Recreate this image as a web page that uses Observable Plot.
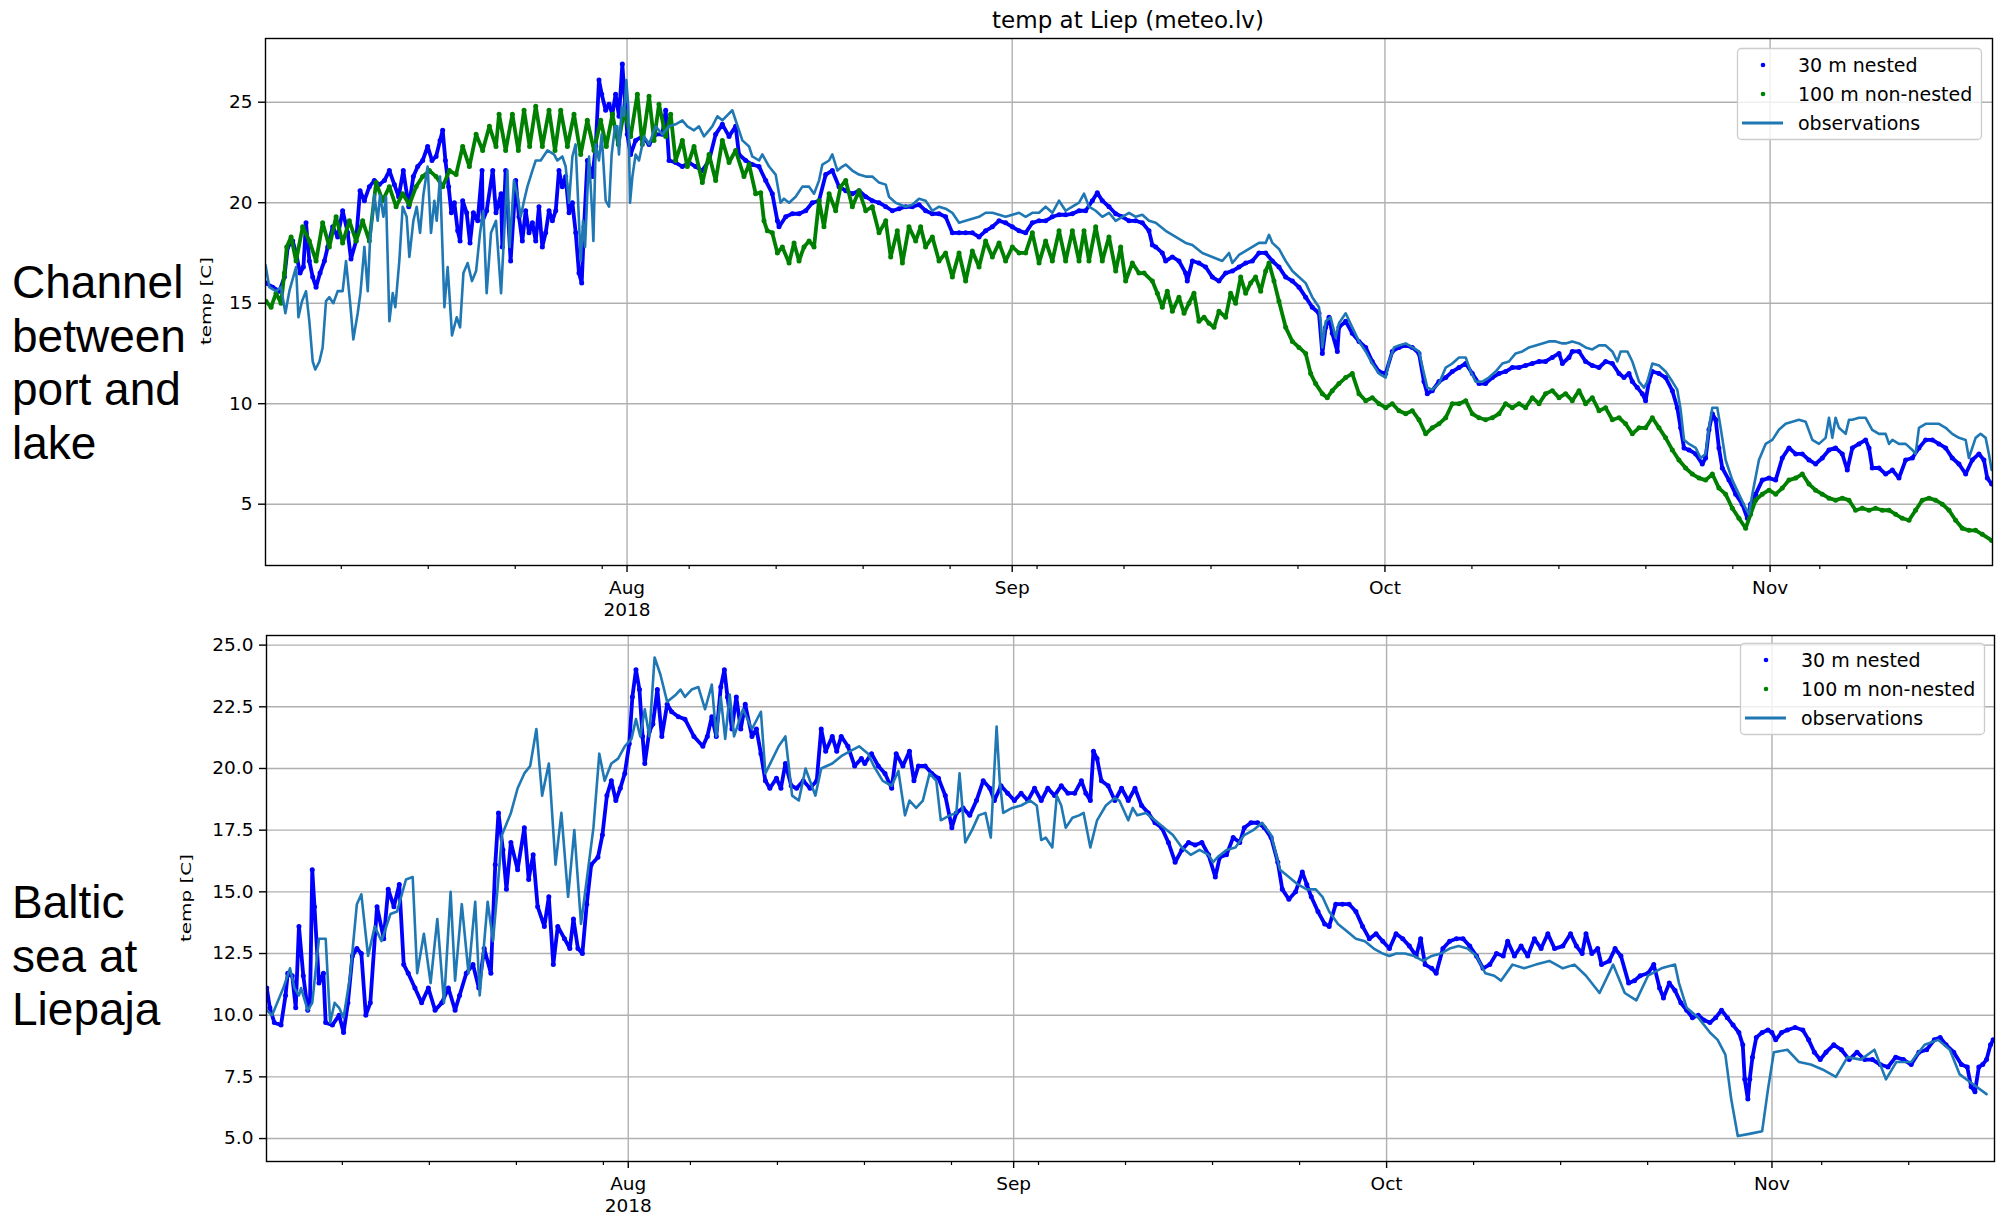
<!DOCTYPE html>
<html>
<head>
<meta charset="utf-8">
<script src="https://cdn.jsdelivr.net/npm/d3@7"></script>
<script src="https://cdn.jsdelivr.net/npm/@observablehq/plot@0.6"></script>
<style>
  body { margin: 0; background: #fff; }
  #page { position: relative; width: 2007px; height: 1219px; overflow: hidden; background: #fff; }
  .panel { position: absolute; left: 0; }
  .site { position: absolute; left: 12px; white-space: nowrap;
          font-family: "Liberation Sans", Arial, sans-serif; font-size: 46px; line-height: 53.5px; color: #000; }
  .title { position: absolute; left: 828px; width: 600px; top: 6px; text-align: center;
           font-family: "DejaVu Sans", sans-serif; font-size: 23px; line-height: 28px; color: #000; }
</style>
</head>
<body>
<div id="page"></div>
<script>
// Water temperature, July–November 2018. Each series is a list of
// [days since 2018-07-03 00:00 UTC, temperature °C].

const titleText = "temp at Liep (meteo.lv)";
const yLabelText = "temp [C]";
const siteNames = [["Channel", "between", "port and", "lake"], ["Baltic", "sea at", "Liepaja"]];
const seriesNames = ["30 m nested", "100 m non-nested", "observations"];

const monthTickDates = ["2018-08-01", "2018-09-01", "2018-10-01", "2018-11-01"];
const monthTickLabels = ["Aug\n2018", "Sep", "Oct", "Nov"];
const weekTickDates = ["2018-07-09", "2018-07-16", "2018-07-23", "2018-07-30", "2018-08-06", "2018-08-13",
  "2018-08-20", "2018-08-27", "2018-09-03", "2018-09-10", "2018-09-17", "2018-09-24", "2018-10-08",
  "2018-10-15", "2018-10-22", "2018-10-29", "2018-11-05", "2018-11-12"];
const dayRange = [-0.1, 138.9];

const channelTicks = [5, 10, 15, 20, 25];
const balticTicks = [5, 7.5, 10, 12.5, 15, 17.5, 20, 22.5, 25];

// Channel between port and lake — observations
const obsChannel = [[-0.1,16.9],[0.21,15.8],[0.75,15.6],[1.15,15.8],[1.5,14.5],[1.82,15.6],[2.22,16.5],[2.36,16.8],[2.55,14.3],[2.84,15.1],[3.16,15.6],[3.43,14.1],[3.7,12.1],[3.91,11.7],[4.24,12.1],[4.5,12.8],[4.77,15.1],[5.04,15.3],[5.36,15.0],[5.71,15.6],[6.11,15.6],[6.38,17.1],[6.7,15.1],[6.97,13.2],[7.32,14.5],[7.54,15.5],[7.86,17.8],[8.13,15.6],[8.31,18.1],[8.66,20.4],[8.93,19.1],[9.12,20.4],[9.39,19.3],[9.6,20.3],[9.87,14.1],[10.14,15.5],[10.35,14.8],[10.67,17.1],[10.94,19.8],[11.26,19.3],[11.48,17.3],[11.8,19.1],[12.07,19.8],[12.34,18.5],[12.61,20.4],[12.95,21.8],[13.22,18.5],[13.49,20.1],[13.68,19.1],[13.95,21.3],[14.3,14.8],[14.56,16.8],[14.75,15.0],[14.91,13.4],[15.29,14.3],[15.56,13.8],[15.83,16.5],[16.17,17.0],[16.52,16.1],[16.85,16.6],[17.17,18.5],[17.43,19.6],[17.7,15.5],[18.05,18.5],[18.45,19.1],[18.86,15.5],[19.37,21.6],[19.55,17.8],[19.9,21.1],[20.17,20.4],[20.44,19.3],[20.71,20.1],[20.98,20.8],[21.38,21.6],[21.65,22.1],[22.05,22.1],[22.59,22.6],[23.12,22.4],[23.39,22.1],[23.79,22.3],[24.06,21.8],[24.33,20.0],[24.6,22.3],[24.86,22.9],[25.27,17.1],[25.46,19.1],[25.62,17.8],[25.8,20.4],[25.94,22.3],[26.21,19.3],[26.29,18.1],[26.48,22.9],[26.74,22.1],[26.96,23.4],[27.28,20.1],[27.55,19.8],[27.76,22.4],[28.03,23.8],[28.22,23.8],[28.35,22.4],[28.57,24.8],[28.76,24.3],[28.94,26.1],[29.1,24.8],[29.24,20.0],[29.43,21.3],[29.69,22.4],[29.96,22.1],[30.37,23.3],[30.77,22.9],[31.3,23.8],[31.84,23.4],[32.38,23.8],[32.91,23.9],[33.45,24.1],[33.85,23.8],[34.39,23.6],[34.79,23.8],[35.19,23.3],[35.6,23.6],[35.86,23.8],[36.27,24.3],[36.67,24.1],[37.47,24.6],[38.28,23.1],[38.82,22.8],[39.08,22.3],[39.62,22.1],[39.89,22.4],[40.43,21.8],[40.96,21.4],[41.36,20.0],[41.63,20.2],[42.04,20.0],[42.57,20.3],[43.11,20.8],[43.65,20.8],[44.05,20.45],[44.45,21.1],[44.72,21.9],[45.26,22.1],[45.52,22.4],[45.93,21.6],[46.33,21.8],[46.6,21.9],[47.13,21.6],[47.67,21.4],[48.21,21.3],[48.74,21.3],[49.28,21.0],[49.82,20.9],[50.08,20.3],[50.62,20.0],[51.42,19.8],[51.96,19.9],[52.5,20.2],[53.03,20.1],[53.57,19.6],[54.11,19.8],[54.64,19.7],[55.18,19.5],[55.72,19.0],[56.25,19.1],[56.79,19.2],[57.33,19.3],[57.86,19.5],[58.4,19.5],[58.94,19.4],[59.47,19.3],[60.01,19.4],[60.55,19.5],[61.08,19.3],[61.62,19.5],[62.16,19.5],[62.69,19.8],[63.23,19.5],[63.77,20.1],[64.3,19.6],[64.84,19.8],[65.38,20.0],[65.78,20.45],[66.18,19.8],[66.72,19.6],[67.25,19.3],[67.79,19.5],[68.33,19.1],[68.86,19.3],[69.4,19.5],[69.94,19.3],[70.47,19.4],[71.01,19.1],[71.55,19.0],[72.35,18.6],[73.16,18.3],[73.96,18.0],[74.5,17.9],[75.3,17.5],[76.11,17.3],[76.91,17.1],[77.45,17.5],[77.72,17.0],[78.25,17.4],[78.79,17.6],[79.33,17.8],[79.86,18.0],[80.4,18.0],[80.67,18.4],[80.94,18.0],[81.47,17.7],[82.01,17.1],[82.55,16.6],[83.08,16.3],[83.62,16.0],[84.15,15.3],[84.69,14.8],[84.83,14.1],[84.96,12.8],[85.23,14.1],[85.63,14.3],[86.03,13.3],[86.3,14.0],[86.84,14.5],[87.37,13.8],[87.91,13.1],[88.45,12.6],[88.98,12.0],[89.52,11.5],[90.06,11.3],[90.33,12.1],[90.73,12.8],[91.13,12.9],[91.67,13.0],[92.2,12.8],[92.74,12.6],[93.14,11.5],[93.41,10.8],[93.81,10.7],[94.35,11.0],[94.89,11.8],[95.42,12.0],[95.96,12.3],[96.5,12.3],[96.9,11.6],[97.3,11.1],[97.84,11.1],[98.37,11.3],[98.91,11.6],[99.45,12.0],[99.98,12.1],[100.52,12.5],[101.06,12.6],[101.59,12.8],[102.13,12.9],[102.67,13.0],[103.2,13.1],[103.74,13.1],[104.28,13.0],[104.54,13.0],[105.08,13.1],[105.62,13.0],[106.15,12.8],[106.69,12.7],[107.23,12.9],[107.76,12.9],[108.3,12.6],[108.7,12.1],[108.97,12.6],[109.51,12.6],[109.91,12.1],[110.45,11.1],[110.85,10.8],[111.12,11.1],[111.52,12.0],[112.06,11.9],[112.59,11.6],[113.13,11.1],[113.53,10.7],[113.8,9.7],[114.07,8.2],[114.47,8.0],[115.01,7.8],[115.41,7.3],[115.81,7.5],[116.08,8.8],[116.35,9.8],[116.75,9.8],[117.02,8.8],[117.42,7.2],[117.96,6.2],[118.49,5.5],[119.03,4.8],[119.3,4.5],[119.57,5.5],[120.1,7.2],[120.64,8.0],[121.18,8.2],[121.71,8.7],[122.25,9.0],[122.79,9.1],[123.32,9.2],[123.86,9.1],[124.4,8.2],[124.93,8.0],[125.47,8.3],[125.74,9.3],[126.01,8.3],[126.27,9.3],[126.54,8.8],[127.08,8.5],[127.35,9.2],[127.62,9.2],[128.15,9.3],[128.69,9.3],[129.22,8.7],[129.76,8.5],[130.3,8.5],[130.57,8.0],[130.84,8.2],[131.37,8.0],[131.91,8.0],[132.45,7.7],[132.71,7.5],[132.98,8.8],[133.52,9.0],[134.06,9.0],[134.59,9.0],[135.13,8.8],[135.66,8.5],[136.2,8.3],[136.74,8.2],[137.0,7.3],[137.54,8.3],[137.94,8.5],[138.35,8.3],[138.61,7.5],[138.83,6.7]];

// Channel — 30 m nested model
const nestedChannel = [[-0.06,16.0],[0.48,15.8],[1.02,15.6],[1.42,16.3],[1.69,17.8],[2.09,18.1],[2.36,17.5],[2.68,16.5],[2.95,16.8],[3.16,19.0],[3.43,17.1],[3.7,16.3],[3.97,15.8],[4.29,16.5],[4.64,17.1],[4.91,17.8],[5.31,18.8],[5.71,18.3],[6.11,19.6],[6.52,18.5],[6.78,17.2],[7.19,18.1],[7.51,20.6],[7.86,20.1],[8.26,20.8],[8.66,21.1],[9.06,20.9],[9.47,21.1],[9.87,21.6],[10.27,20.9],[10.62,20.3],[10.99,21.6],[11.43,19.8],[11.8,21.3],[12.15,21.8],[12.55,22.1],[12.95,22.8],[13.3,22.1],[13.63,22.3],[13.95,23.1],[14.16,23.6],[14.38,22.1],[14.64,20.8],[14.86,19.5],[15.1,20.0],[15.37,18.6],[15.56,18.1],[15.77,20.1],[16.09,19.5],[16.36,18.0],[16.63,19.5],[16.98,19.1],[17.33,21.6],[17.38,19.1],[17.7,19.6],[18.19,21.6],[18.45,19.5],[18.86,20.45],[18.96,17.8],[19.23,21.6],[19.63,17.1],[20.04,21.1],[20.3,19.3],[20.57,18.1],[20.84,19.6],[21.11,18.5],[21.38,19.0],[21.65,18.1],[21.91,19.8],[22.18,17.8],[22.45,18.5],[22.72,19.6],[22.99,19.1],[23.26,19.6],[23.52,21.6],[23.79,20.8],[24.06,21.3],[24.33,19.5],[24.6,20.0],[24.87,18.5],[25.13,16.5],[25.35,16.0],[25.54,18.8],[25.81,22.1],[26.21,21.3],[26.48,22.8],[26.74,26.1],[26.96,25.4],[27.28,24.6],[27.55,24.9],[27.82,24.4],[28.08,25.4],[28.35,24.3],[28.62,26.9],[28.84,24.9],[29.02,23.4],[29.29,22.4],[29.69,23.1],[30.23,23.3],[30.77,22.9],[31.3,23.4],[31.84,23.4],[32.11,24.6],[32.38,22.1],[32.91,22.0],[33.45,21.8],[33.99,22.0],[34.52,21.8],[35.06,21.6],[35.6,22.1],[36.13,23.4],[36.67,23.9],[37.21,23.3],[37.74,23.8],[38.01,22.4],[38.55,22.1],[39.08,21.9],[39.62,21.8],[40.16,21.1],[40.69,20.45],[41.1,19.1],[41.23,18.8],[41.77,19.3],[42.3,19.45],[42.84,19.45],[43.38,19.6],[43.91,20.0],[44.45,20.1],[44.99,21.4],[45.52,21.6],[46.06,20.8],[46.6,20.6],[47.13,20.45],[47.67,20.6],[48.21,20.3],[48.74,20.1],[49.28,20.0],[49.82,19.8],[50.35,19.6],[50.89,19.7],[51.42,19.8],[51.96,19.8],[52.5,19.9],[53.03,19.6],[53.57,19.45],[54.11,19.45],[54.64,19.3],[55.18,18.5],[55.72,18.5],[56.25,18.5],[56.79,18.5],[57.33,18.3],[57.86,18.6],[58.4,18.8],[58.94,19.1],[59.47,19.0],[60.01,18.8],[60.55,18.6],[61.08,18.5],[61.62,19.0],[62.16,19.1],[62.69,19.1],[63.23,19.3],[63.77,19.4],[64.3,19.4],[64.84,19.45],[65.38,19.6],[65.91,19.6],[66.45,20.1],[66.85,20.5],[67.25,20.1],[67.79,19.8],[68.33,19.45],[68.86,19.3],[69.4,19.1],[69.94,19.1],[70.47,19.0],[71.01,18.6],[71.28,17.9],[71.55,17.8],[72.08,17.5],[72.35,17.1],[72.89,17.3],[73.42,17.1],[73.96,16.5],[74.09,16.1],[74.5,17.1],[75.03,17.0],[75.57,16.8],[76.11,16.3],[76.64,16.1],[77.18,16.5],[77.72,16.6],[78.25,16.8],[78.79,17.0],[79.33,17.1],[79.86,17.5],[80.4,17.5],[80.94,17.1],[81.47,16.8],[82.01,16.3],[82.55,16.1],[83.08,15.8],[83.62,15.3],[84.15,14.8],[84.69,14.5],[84.96,12.5],[85.23,13.8],[85.5,14.3],[85.76,13.5],[86.17,12.6],[86.3,13.8],[86.84,14.1],[87.37,13.5],[87.91,13.1],[88.45,12.8],[88.98,12.1],[89.52,11.6],[90.06,11.5],[90.59,12.6],[91.13,12.8],[91.67,12.9],[92.2,12.8],[92.74,12.5],[93.14,11.1],[93.41,10.5],[93.81,10.65],[94.35,11.1],[94.89,11.3],[95.42,11.6],[95.96,11.8],[96.5,12.0],[97.03,11.5],[97.57,11.0],[98.1,11.0],[98.64,11.3],[99.18,11.5],[99.71,11.6],[100.25,11.8],[100.79,11.8],[101.32,11.9],[101.86,12.0],[102.4,12.1],[102.93,12.1],[103.47,12.3],[104.01,12.5],[104.28,12.0],[104.81,12.3],[105.08,12.6],[105.62,12.6],[106.15,12.1],[106.69,11.9],[107.23,11.8],[107.76,12.1],[108.3,12.0],[108.84,11.5],[109.24,11.3],[109.64,11.5],[109.91,11.1],[110.31,10.8],[110.71,10.5],[110.98,10.15],[111.25,11.1],[111.52,11.6],[112.06,11.5],[112.59,11.3],[113.13,10.65],[113.53,9.8],[113.8,8.8],[114.07,7.8],[114.47,7.7],[115.01,7.5],[115.54,7.0],[115.81,7.3],[116.08,8.7],[116.35,9.5],[116.62,9.2],[116.88,7.8],[117.15,6.8],[117.69,6.2],[118.23,5.5],[118.76,5.0],[119.17,4.3],[119.43,5.0],[119.84,5.5],[120.37,6.2],[120.91,6.3],[121.45,6.2],[121.98,7.3],[122.52,7.8],[123.06,7.5],[123.59,7.5],[124.13,7.2],[124.66,7.0],[125.2,7.3],[125.74,7.7],[126.27,7.8],[126.81,7.5],[127.21,6.7],[127.62,7.8],[128.15,8.0],[128.69,8.2],[128.96,7.8],[129.22,6.8],[129.76,6.8],[130.3,6.5],[130.84,6.7],[131.37,6.3],[131.91,7.2],[132.45,7.3],[132.98,7.8],[133.52,8.2],[134.06,8.2],[134.59,8.0],[135.13,7.8],[135.66,7.3],[136.2,7.0],[136.74,6.5],[137.27,7.2],[137.81,7.5],[138.21,7.2],[138.48,6.3],[138.83,6.0]];

// Channel — 100 m non-nested model
const coarseChannel = [[-0.06,15.1],[0.35,14.8],[0.75,15.5],[1.15,15.0],[1.42,16.5],[1.61,17.8],[1.96,18.3],[2.36,17.1],[2.89,18.8],[3.43,18.1],[3.97,17.1],[4.5,19.0],[5.04,17.8],[5.58,19.3],[6.11,18.0],[6.65,19.1],[7.19,18.1],[7.72,19.1],[8.26,18.1],[8.8,21.0],[9.33,20.1],[9.87,20.8],[10.41,19.8],[10.94,20.45],[11.48,19.9],[12.02,20.8],[12.55,21.3],[13.09,21.6],[13.63,21.3],[14.16,20.8],[14.7,21.6],[15.24,21.4],[15.77,22.8],[16.31,21.8],[16.85,23.4],[17.38,22.6],[17.92,23.8],[18.45,22.8],[18.7,24.4],[19.23,22.6],[19.77,24.4],[20.25,22.6],[20.71,24.6],[21.16,22.8],[21.65,24.8],[22.18,22.8],[22.72,24.6],[23.2,22.6],[23.66,24.6],[24.2,22.8],[24.73,24.4],[25.27,22.4],[25.8,24.1],[26.34,22.6],[26.88,24.1],[27.33,22.8],[27.82,24.4],[28.3,22.9],[28.76,24.6],[29.29,23.3],[29.83,25.4],[30.23,22.9],[30.77,25.3],[31.17,23.1],[31.57,24.9],[32.11,23.3],[32.51,24.4],[32.91,22.1],[33.45,23.1],[33.85,21.8],[34.39,22.8],[35.06,21.0],[35.6,22.4],[36.13,21.1],[36.67,23.1],[37.21,22.0],[37.74,22.6],[38.41,21.3],[38.82,21.9],[39.35,20.45],[39.76,20.5],[40.02,19.1],[40.29,18.6],[40.69,18.5],[41.1,17.5],[41.5,17.8],[42.04,17.0],[42.44,18.0],[42.84,17.1],[43.24,17.8],[43.65,18.1],[44.05,17.8],[44.45,20.1],[44.85,18.8],[45.26,20.45],[45.79,19.6],[46.19,20.8],[46.6,21.1],[47.13,19.8],[47.67,20.6],[48.21,19.6],[48.74,19.8],[49.28,18.5],[49.82,19.1],[50.22,17.3],[50.75,18.6],[51.16,17.0],[51.69,18.8],[52.23,18.1],[52.63,18.8],[53.03,17.8],[53.57,18.3],[54.11,17.1],[54.64,17.5],[55.18,16.3],[55.72,17.5],[56.25,16.1],[56.79,17.6],[57.33,16.8],[57.86,18.1],[58.4,17.3],[58.94,18.0],[59.47,17.1],[60.01,17.8],[60.55,17.5],[61.08,17.5],[61.62,18.5],[62.16,17.0],[62.69,18.1],[63.23,17.1],[63.77,18.6],[64.3,17.1],[64.84,18.6],[65.38,17.1],[65.78,18.6],[66.18,17.1],[66.72,18.8],[67.25,17.1],[67.79,18.3],[68.33,16.6],[68.73,17.8],[69.13,16.1],[69.67,17.0],[70.2,16.5],[70.61,16.5],[71.28,16.1],[71.68,15.5],[72.08,14.8],[72.48,15.6],[72.89,14.6],[73.42,15.3],[73.83,14.5],[74.23,15.0],[74.63,15.5],[75.03,14.1],[75.44,14.3],[75.84,14.0],[76.24,13.8],[76.64,14.6],[77.18,14.3],[77.58,15.5],[77.98,15.0],[78.39,16.3],[78.79,15.5],[79.19,16.0],[79.59,16.3],[80.0,15.6],[80.4,16.6],[80.67,17.0],[81.07,16.1],[81.47,15.1],[82.01,13.8],[82.55,13.1],[83.08,12.8],[83.62,12.5],[84.02,11.5],[84.42,11.0],[84.96,10.5],[85.36,10.3],[85.76,10.65],[86.3,11.0],[86.84,11.3],[87.37,11.5],[87.91,10.5],[88.45,10.15],[88.98,10.3],[89.52,10.0],[90.06,9.8],[90.59,10.0],[91.13,9.65],[91.67,9.5],[92.2,9.65],[92.74,9.2],[93.28,8.5],[93.81,8.8],[94.35,9.0],[94.89,9.3],[95.42,10.0],[95.96,10.0],[96.5,10.15],[97.03,9.5],[97.57,9.3],[98.1,9.2],[98.64,9.3],[99.18,9.5],[99.71,10.0],[100.25,9.8],[100.79,10.0],[101.32,9.8],[101.86,10.3],[102.4,10.0],[102.93,10.5],[103.47,10.65],[104.01,10.3],[104.54,10.5],[105.08,10.15],[105.62,10.65],[106.15,10.0],[106.69,10.3],[107.23,9.65],[107.76,9.8],[108.3,9.2],[108.84,9.3],[109.37,9.0],[109.91,8.5],[110.45,8.8],[110.98,8.8],[111.52,9.3],[112.06,8.8],[112.59,8.3],[113.13,7.7],[113.66,7.2],[114.2,6.8],[114.74,6.5],[115.28,6.3],[115.81,6.2],[116.35,6.5],[116.88,5.8],[117.42,5.5],[117.96,4.8],[118.49,4.3],[119.03,3.8],[119.43,4.5],[119.84,5.2],[120.37,5.5],[120.91,5.7],[121.45,5.5],[121.98,5.8],[122.52,6.2],[123.06,6.3],[123.59,6.5],[124.13,6.0],[124.66,5.7],[125.2,5.5],[125.74,5.3],[126.27,5.2],[126.81,5.3],[127.35,5.2],[127.88,4.7],[128.42,4.8],[128.96,4.7],[129.49,4.8],[130.03,4.7],[130.57,4.7],[131.1,4.5],[131.64,4.3],[132.18,4.2],[132.71,4.7],[133.25,5.2],[133.79,5.3],[134.32,5.2],[134.86,5.0],[135.4,4.7],[135.93,4.2],[136.47,3.8],[137.01,3.7],[137.54,3.7],[138.08,3.5],[138.83,3.2]];

// Baltic sea at Liepaja — observations
const obsBaltic = [[-0.08,10.2],[0.35,10.0],[1.25,11.1],[1.79,11.9],[2.15,11.1],[2.51,10.8],[2.68,11.1],[3.22,10.2],[3.58,10.5],[4.12,13.1],[4.66,13.1],[5.02,9.7],[5.38,10.5],[5.74,10.3],[6.1,9.9],[6.63,11.6],[7.17,14.5],[7.53,14.9],[8.07,12.4],[8.61,13.6],[9.15,13.0],[9.87,14.1],[10.4,14.2],[11.12,15.5],[11.66,15.6],[12.02,11.7],[12.56,13.3],[13.1,11.3],[13.64,13.9],[14.18,10.5],[14.71,15.0],[15.07,11.4],[15.61,14.5],[16.15,11.7],[16.69,14.6],[17.05,10.8],[17.69,14.6],[18.12,13.0],[18.48,15.1],[18.84,17.3],[19.56,18.2],[20.1,19.2],[20.64,19.8],[21.11,20.1],[21.61,21.6],[22.07,18.9],[22.61,20.2],[23.15,16.1],[23.62,18.2],[24.16,14.8],[24.66,17.5],[25.2,13.7],[25.74,15.8],[26.2,17.6],[26.67,20.6],[27.1,19.5],[27.64,20.2],[28.18,20.4],[28.72,20.9],[29.26,21.2],[29.62,22.0],[29.97,21.3],[30.33,22.4],[30.69,21.3],[31.12,24.5],[31.59,23.8],[32.13,22.7],[32.85,23.0],[33.2,23.2],[33.56,22.9],[34.1,23.2],[34.64,23.3],[35.18,22.4],[35.72,23.4],[36.08,21.3],[36.44,22.9],[36.8,21.2],[37.16,23.0],[37.51,21.3],[38.23,22.4],[38.95,21.6],[39.67,22.3],[40.03,19.8],[41.1,20.9],[41.64,21.3],[42.18,18.9],[42.72,18.7],[43.26,20.0],[44.05,18.9],[44.52,20.0],[45.41,20.2],[46.13,20.5],[46.85,20.7],[47.57,20.9],[48.29,20.6],[48.75,20.1],[49.47,19.5],[50.19,19.3],[50.73,19.9],[51.26,18.1],[51.62,18.7],[52.16,18.4],[52.7,18.7],[53.24,19.8],[53.78,19.5],[54.14,17.9],[54.86,18.1],[55.39,18.2],[55.65,19.8],[56.11,17.0],[56.65,17.5],[57.19,18.1],[57.73,18.2],[58.16,17.2],[58.63,21.7],[58.88,19.5],[59.16,18.2],[59.88,18.4],[60.6,18.5],[61.32,18.7],[61.86,18.5],[62.22,17.1],[62.58,17.2],[63.11,16.8],[63.47,18.9],[63.83,18.5],[64.19,17.6],[64.73,18.0],[65.27,18.1],[65.63,18.2],[66.17,16.8],[66.71,17.9],[67.42,18.5],[68.14,18.8],[68.5,18.7],[69.22,17.9],[69.58,18.4],[69.94,18.1],[70.65,18.2],[71.37,17.9],[72.09,17.6],[72.81,17.3],[73.53,16.8],[74.24,16.5],[74.96,16.7],[75.68,16.5],[76.04,16.2],[76.4,16.4],[77.12,16.7],[77.84,16.8],[78.55,17.3],[79.27,17.5],[79.99,17.8],[80.71,17.3],[81.43,15.9],[82.14,15.6],[82.86,15.3],[83.58,15.1],[84.3,15.1],[84.84,14.8],[85.38,14.2],[86.09,13.7],[86.81,13.4],[87.53,13.1],[88.25,13.0],[88.97,12.7],[89.69,12.5],[90.23,12.4],[90.76,12.5],[91.48,12.5],[92.2,12.4],[92.92,12.2],[93.63,12.4],[94.35,12.5],[95.07,12.7],[95.79,12.8],[96.51,12.7],[97.23,12.4],[97.94,11.7],[98.66,11.6],[99.2,11.4],[100.13,12.05],[101.06,11.9],[102.0,12.05],[103.09,12.2],[104.18,11.9],[105.11,12.05],[106.04,11.6],[107.13,10.9],[108.22,12.05],[109.16,10.9],[110.09,10.6],[111.03,11.6],[112.11,11.9],[113.2,12.05],[113.52,11.3],[114.14,10.3],[115.07,9.9],[116.01,9.3],[116.63,9.0],[117.25,8.4],[117.72,6.6],[118.25,5.1],[119.28,5.2],[120.21,5.3],[120.68,7.0],[121.15,8.5],[122.24,8.6],[123.18,8.1],[124.12,8.0],[125.06,7.8],[126.14,7.5],[127.08,8.3],[128.15,8.2],[129.24,8.6],[130.17,7.4],[131.0,8.1],[132.2,8.1],[133.28,8.8],[134.37,9.0],[135.31,8.6],[136.1,7.6],[137.18,7.2],[138.26,6.8]];

// Baltic sea at Liepaja — 30 m nested model
const nestedBaltic = [[-0.08,11.1],[0.17,10.3],[0.53,9.7],[1.07,9.6],[1.43,10.8],[1.61,11.7],[1.97,11.6],[2.25,10.3],[2.51,13.6],[2.86,11.6],[3.22,10.2],[3.4,10.5],[3.58,15.9],[3.76,14.4],[4.12,11.3],[4.48,11.7],[4.66,9.7],[5.2,9.6],[5.74,10.0],[6.1,9.3],[6.45,10.5],[6.81,12.4],[7.17,12.7],[7.53,12.5],[7.89,10.0],[8.25,10.5],[8.79,14.4],[9.33,13.1],[9.69,15.1],[10.15,14.4],[10.58,15.3],[10.94,12.05],[11.3,11.7],[11.84,11.1],[12.38,10.5],[12.92,11.1],[13.46,10.2],[14.0,10.5],[14.53,11.1],[15.07,10.2],[15.43,10.8],[15.97,11.7],[16.51,12.05],[16.98,11.1],[17.41,12.7],[17.95,11.7],[18.3,16.1],[18.56,18.2],[18.92,16.7],[19.2,15.1],[19.56,17.0],[20.1,15.9],[20.64,17.6],[20.99,15.5],[21.35,16.5],[21.71,14.4],[22.25,13.6],[22.61,14.8],[22.97,12.05],[23.33,13.6],[23.87,13.1],[24.3,12.7],[24.59,13.9],[24.95,12.7],[25.31,12.5],[25.66,14.5],[26.02,16.1],[26.56,16.4],[26.92,17.3],[27.28,18.9],[27.64,19.5],[28.0,18.7],[28.36,19.2],[28.72,19.8],[29.08,21.0],[29.33,22.9],[29.62,24.0],[29.9,23.2],[30.15,21.3],[30.33,20.2],[30.69,21.5],[30.98,21.8],[31.34,23.2],[31.7,21.3],[32.13,22.6],[32.49,22.3],[33.03,22.1],[33.56,22.0],[34.28,21.3],[35.0,20.9],[35.36,21.3],[35.72,22.1],[36.08,21.3],[36.44,23.3],[36.73,24.0],[36.98,22.9],[37.34,21.6],[37.69,22.9],[38.05,21.6],[38.41,22.6],[38.95,21.3],[39.31,21.6],[39.67,20.6],[40.03,19.5],[40.39,19.2],[40.92,19.6],[41.28,19.2],[41.64,20.2],[42.11,19.3],[42.54,19.2],[43.08,19.5],[43.62,19.2],[44.16,19.5],[44.52,21.6],[44.88,20.7],[45.41,21.3],[45.77,20.7],[46.13,21.3],[46.67,20.9],[47.21,20.1],[47.75,20.4],[48.03,20.2],[48.57,20.6],[49.11,20.1],[49.65,19.8],[50.19,19.2],[50.55,20.6],[51.09,20.1],[51.62,20.7],[51.98,19.5],[52.34,20.1],[52.88,20.1],[53.42,19.8],[53.96,19.6],[54.5,18.9],[55.03,17.6],[55.39,18.2],[55.93,18.4],[56.47,18.1],[57.01,18.7],[57.55,19.5],[58.09,19.2],[58.45,18.7],[58.98,19.3],[59.52,19.0],[60.06,18.7],[60.6,19.0],[61.14,18.7],[61.68,19.2],[62.22,18.7],[62.75,19.2],[63.29,18.9],[63.83,19.3],[64.37,19.0],[64.91,19.0],[65.45,19.5],[65.81,19.0],[66.17,18.7],[66.42,20.7],[66.71,20.4],[67.06,19.5],[67.6,19.3],[68.14,18.7],[68.68,19.2],[69.22,18.7],[69.76,19.2],[70.29,18.5],[70.83,18.2],[71.37,17.8],[71.91,17.6],[72.45,17.0],[72.99,16.2],[73.53,16.7],[74.07,17.0],[74.6,16.9],[75.14,17.0],[75.68,16.5],[76.22,15.6],[76.58,16.4],[77.12,16.5],[77.66,17.2],[78.19,17.0],[78.55,17.6],[79.09,17.8],[79.63,17.8],[80.17,17.6],[80.71,17.2],[81.25,16.2],[81.61,15.1],[82.14,14.7],[82.68,15.0],[83.22,15.8],[83.58,15.3],[83.94,14.8],[84.48,14.2],[85.02,13.7],[85.38,13.6],[85.91,14.5],[86.45,14.5],[86.99,14.5],[87.53,14.2],[88.07,13.6],[88.61,13.1],[89.15,13.3],[89.69,13.0],[90.23,12.7],[90.76,13.3],[91.3,13.1],[91.84,12.8],[92.38,12.4],[92.74,13.1],[93.1,12.05],[93.63,11.9],[93.99,11.7],[94.53,12.7],[95.07,13.0],[95.61,13.1],[96.15,13.1],[96.69,12.8],[97.23,12.4],[97.76,11.9],[98.3,12.05],[98.84,12.5],[99.38,12.4],[99.74,13.0],[100.28,12.4],[100.82,12.8],[101.35,12.4],[101.89,13.1],[102.43,12.7],[102.97,13.3],[103.51,12.7],[104.18,12.8],[104.8,13.3],[105.27,12.8],[105.73,12.5],[106.04,13.3],[106.51,12.5],[106.98,12.7],[107.29,12.05],[107.91,12.2],[108.38,12.7],[108.85,12.4],[109.47,11.3],[109.94,11.4],[110.4,11.6],[111.03,11.7],[111.49,12.05],[111.96,11.1],[112.27,10.7],[112.74,11.3],[113.2,11.0],[113.67,10.5],[114.14,10.2],[114.6,9.9],[115.07,10.0],[115.54,9.8],[116.01,9.7],[116.47,9.9],[116.94,10.2],[117.41,9.9],[117.87,9.6],[118.34,9.3],[118.65,8.8],[118.81,7.4],[119.06,6.6],[119.21,7.4],[119.43,8.3],[119.74,9.1],[120.21,9.3],[120.68,9.4],[120.99,9.3],[121.3,9.0],[121.77,9.3],[122.24,9.4],[122.86,9.5],[123.48,9.4],[123.95,9.0],[124.41,8.5],[124.88,8.2],[125.35,8.5],[125.97,8.8],[126.59,8.6],[127.21,8.2],[127.84,8.5],[128.46,8.2],[129.08,8.2],[129.71,8.0],[130.33,7.9],[130.95,8.3],[131.57,8.2],[132.2,8.0],[132.82,8.5],[133.44,8.6],[134.06,9.0],[134.53,9.1],[135.0,8.8],[135.62,8.5],[136.24,8.0],[136.71,7.9],[137.02,7.1],[137.33,6.9],[137.64,7.9],[137.95,8.0],[138.26,8.2],[138.58,8.8],[138.79,9.0]];

// ---------------------------------------------------------------------------

const colors = {nested: "#0000ff", coarse: "#008000", obs: "#1f77b4"};
const T0 = Date.UTC(2018, 6, 3);
const DAY = 864e5;
const toDate = (d) => new Date(T0 + d * DAY);
const rows = (pairs) => pairs.map(([d, v]) => ({date: toDate(d), temp: v}));
const utcDay = (s) => new Date(s + "T00:00:00Z");

const monthTicks = monthTickDates.map(utcDay);
const weekTicks = weekTickDates.map(utcDay);
const monthLabel = new Map(monthTicks.map((d, i) => [+d, monthTickLabels[i]]));
const xDomain = dayRange.map(toDate);

const page = document.getElementById("page");

function panel({top, height, margins, yDomain, yTicks, yFormat, obs, nested, coarse}) {
  const [mt, mr, mb, ml] = margins;
  const grid = {stroke: "#b0b0b0", strokeOpacity: 1, strokeWidth: 1.4};
  const model = (data, color) => [
    Plot.line(rows(data), {x: "date", y: "temp", stroke: color, strokeWidth: 3.8, clip: true}),
    Plot.dot(rows(data), {x: "date", y: "temp", r: 2.5, fill: color, clip: true})
  ];
  const marks = [
    Plot.gridX(monthTicks, grid),
    Plot.gridY(yTicks, grid),
    ...model(nested, colors.nested),
    ...(coarse ? model(coarse, colors.coarse) : []),
    Plot.line(rows(obs), {x: "date", y: "temp", stroke: colors.obs, strokeWidth: 2.6, clip: true}),
    Plot.axisY(yTicks, {tickSize: 7, tickPadding: 6, tickFormat: yFormat, label: null, strokeWidth: 1.4}),
    Plot.axisX(monthTicks, {tickSize: 7, tickPadding: 6, tickFormat: (d) => monthLabel.get(+d),
                            label: null, strokeWidth: 1.4, lineHeight: 1.2}),
    Plot.axisX(weekTicks, {tickSize: 4, tickFormat: () => "", label: null, strokeWidth: 1.2}),
    Plot.frame({stroke: "#000", strokeWidth: 1.4})
  ];
  const svg = Plot.plot({
    width: 2007, height,
    marginTop: mt, marginRight: mr, marginBottom: mb, marginLeft: ml,
    style: {fontFamily: "DejaVu Sans, sans-serif", fontSize: "18.5px", color: "#000",
            background: "transparent", overflow: "visible"},
    x: {type: "utc", domain: xDomain, label: null},
    y: {domain: yDomain, label: null},
    marks
  });
  svg.classList.add("panel");
  svg.style.top = top + "px";
  page.appendChild(svg);
}

function yLabel(cx, cy) {
  const ns = "http://www.w3.org/2000/svg";
  const svg = document.createElementNS(ns, "svg");
  svg.setAttribute("width", 30);
  svg.setAttribute("height", 120);
  svg.style.cssText = `position:absolute;left:${cx - 15}px;top:${cy - 60}px;overflow:visible`;
  const t = document.createElementNS(ns, "text");
  t.setAttribute("transform", "translate(15,60) rotate(-90)");
  t.setAttribute("text-anchor", "middle");
  t.setAttribute("dominant-baseline", "central");
  t.setAttribute("font-family", "DejaVu Sans, sans-serif");
  t.setAttribute("font-size", "14");
  t.setAttribute("textLength", "88");
  t.setAttribute("lengthAdjust", "spacingAndGlyphs");
  t.textContent = yLabelText;
  svg.appendChild(t);
  page.appendChild(svg);
}

function legend(left, top) {
  const w = 245, h = 92, rowsY = [17, 46, 75];
  const svg = d3.create("svg")
    .attr("width", w).attr("height", h)
    .style("position", "absolute").style("left", left + "px").style("top", top + "px")
    .style("overflow", "visible");
  svg.append("rect").attr("x", 0.5).attr("y", 0.5).attr("width", w - 1).attr("height", h - 1)
    .attr("rx", 4).attr("fill", "rgba(255,255,255,0.8)").attr("stroke", "#cccccc").attr("stroke-width", 1.3);
  svg.append("circle").attr("cx", 26).attr("cy", rowsY[0]).attr("r", 2.3).attr("fill", colors.nested);
  svg.append("circle").attr("cx", 26).attr("cy", rowsY[1]).attr("r", 2.3).attr("fill", colors.coarse);
  svg.append("line").attr("x1", 5).attr("x2", 46).attr("y1", rowsY[2]).attr("y2", rowsY[2])
    .attr("stroke", colors.obs).attr("stroke-width", 2.8);
  seriesNames.forEach((name, i) => {
    svg.append("text").attr("x", 61).attr("y", rowsY[i]).attr("dy", "0.35em")
      .attr("font-family", "DejaVu Sans, sans-serif").attr("font-size", 19).attr("fill", "#000")
      .text(name);
  });
  page.appendChild(svg.node());
}

function siteLabel(lines, top) {
  const div = document.createElement("div");
  div.className = "site";
  div.style.top = top + "px";
  div.innerHTML = lines.map((l) => `<div>${l}</div>`).join("");
  page.appendChild(div);
}

// Channel between port and lake
panel({
  top: 0, height: 620, margins: [38, 15, 55, 265],
  yDomain: [1.95, 28.17], yTicks: channelTicks, yFormat: (d) => String(d),
  obs: obsChannel, nested: nestedChannel, coarse: coarseChannel
});

// Baltic sea at Liepaja (the 100 m run has no output here)
panel({
  top: 620, height: 599, margins: [15, 13, 58, 266],
  yDomain: [4.07, 25.39], yTicks: balticTicks, yFormat: d3.format(".1f"),
  obs: obsBaltic, nested: nestedBaltic, coarse: null
});

const title = document.createElement("div");
title.className = "title";
title.textContent = titleText;
page.appendChild(title);

yLabel(206, 301);
yLabel(186, 898);
legend(1737, 48);
legend(1740, 643);
siteLabel(siteNames[0], 256);
siteLabel(siteNames[1], 876);
</script>
</body>
</html>
